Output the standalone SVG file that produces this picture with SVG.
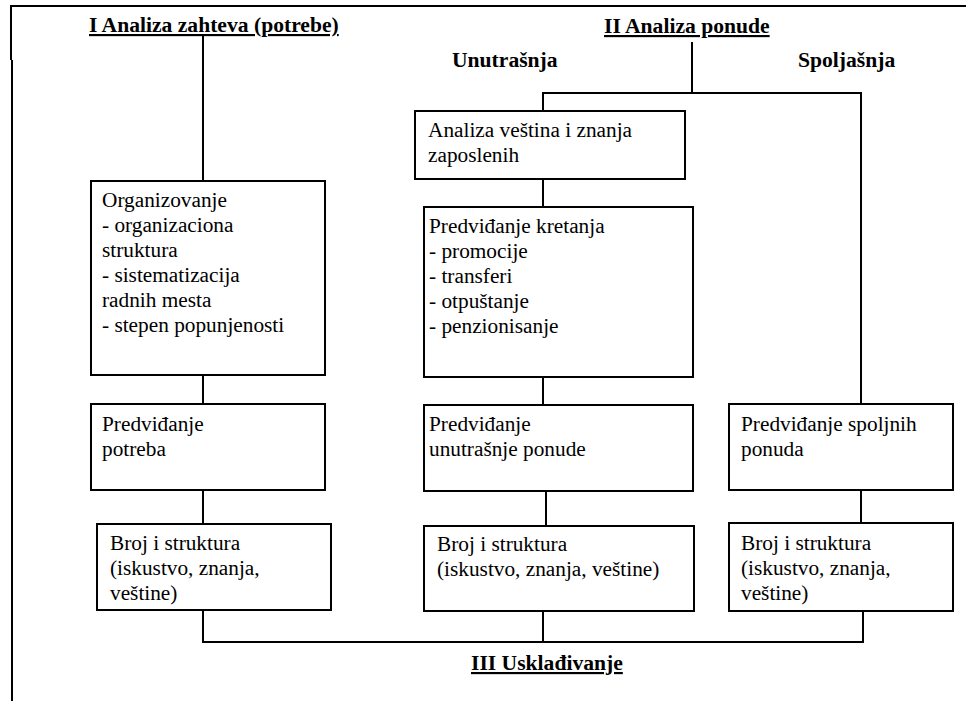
<svg xmlns="http://www.w3.org/2000/svg" width="966" height="701" viewBox="0 0 966 701">
  <style>
    .frame { fill: none; stroke: #000; stroke-width: 2; }
    .box { fill: #fff; stroke: #000; stroke-width: 2; }
    .wire { fill: none; stroke: #000; stroke-width: 2; }
    .head { font-weight: bold; font-size: 21.6px; }
    .ul { font-weight: bold; font-size: 21.6px; text-decoration: underline; }
  </style>
  <rect x="0" y="0" width="966" height="701" fill="#fff"/>

  <!-- page frame (top and left rules) -->
  <path class="frame" d="M10,6 H966 M11,6 V60 M12,60 V701"/>

  <g font-family="'Liberation Serif', 'Times New Roman', Times, serif" font-size="21.3" fill="#000">

  <!-- section headings -->
  <g id="headings">
    <text class="ul" x="89" y="32">I Analiza zahteva (potrebe)</text>
    <text class="ul" x="604" y="33">II Analiza ponude</text>
    <text class="head" x="452" y="67">Unutrašnja</text>
    <text class="head" x="798" y="67">Spoljašnja</text>
    <text class="ul" x="471" y="670">III Usklađivanje</text>
  </g>

  <!-- connectors -->
  <g id="connectors">
    <path class="wire" d="M203,36 V181"/>
    <path class="wire" d="M203,375 V404"/>
    <path class="wire" d="M203,490 V524"/>
    <path class="wire" d="M203,610 V642 H863 V611"/>
    <path class="wire" d="M543,642 V611"/>
    <path class="wire" d="M692,42 V93"/>
    <path class="wire" d="M543,111 V93 H861 V404"/>
    <path class="wire" d="M543,179 V207"/>
    <path class="wire" d="M543,377 V405"/>
    <path class="wire" d="M546,491 V526"/>
    <path class="wire" d="M861,490 V523"/>
  </g>

  <!-- demand column -->
  <g id="organizovanje">
    <rect class="box" x="91" y="181" width="234" height="194"/>
    <text x="102" y="207">Organizovanje</text>
    <text x="102" y="232">- organizaciona</text>
    <text x="102" y="257">struktura</text>
    <text x="102" y="282">- sistematizacija</text>
    <text x="102" y="307">radnih mesta</text>
    <text x="102" y="332">- stepen popunjenosti</text>
  </g>
  <g id="predvidjanje-potreba">
    <rect class="box" x="91" y="404" width="234" height="86"/>
    <text x="102" y="431">Predviđanje</text>
    <text x="102" y="456">potreba</text>
  </g>
  <g id="broj-potrebe">
    <rect class="box" x="97" y="524" width="234" height="86"/>
    <text x="110" y="550">Broj i struktura</text>
    <text x="110" y="575">(iskustvo, znanja,</text>
    <text x="110" y="600">veštine)</text>
  </g>

  <!-- internal supply column -->
  <g id="analiza-vestina">
    <rect class="box" x="415" y="111" width="270" height="68"/>
    <text x="428" y="137">Analiza veština i znanja</text>
    <text x="428" y="162">zaposlenih</text>
  </g>
  <g id="predvidjanje-kretanja">
    <rect class="box" x="424" y="207" width="269" height="170"/>
    <text x="429" y="233">Predviđanje kretanja</text>
    <text x="429" y="258">- promocije</text>
    <text x="429" y="283">- transferi</text>
    <text x="429" y="308">- otpuštanje</text>
    <text x="429" y="333">- penzionisanje</text>
  </g>
  <g id="predvidjanje-unutrasnje">
    <rect class="box" x="424" y="405" width="269" height="86"/>
    <text x="429" y="431">Predviđanje</text>
    <text x="429" y="456">unutrašnje ponude</text>
  </g>
  <g id="broj-unutrasnja">
    <rect class="box" x="424" y="526" width="270" height="85"/>
    <text x="437" y="551">Broj i struktura</text>
    <text x="437" y="576">(iskustvo, znanja, veštine)</text>
  </g>

  <!-- external supply column -->
  <g id="predvidjanje-spoljnih">
    <rect class="box" x="729" y="404" width="224" height="86"/>
    <text x="741" y="431">Predviđanje spoljnih</text>
    <text x="741" y="456">ponuda</text>
  </g>
  <g id="broj-spoljasnja">
    <rect class="box" x="729" y="523" width="224" height="88"/>
    <text x="741" y="550">Broj i struktura</text>
    <text x="741" y="575">(iskustvo, znanja,</text>
    <text x="741" y="600">veštine)</text>
  </g>

  </g>
</svg>
